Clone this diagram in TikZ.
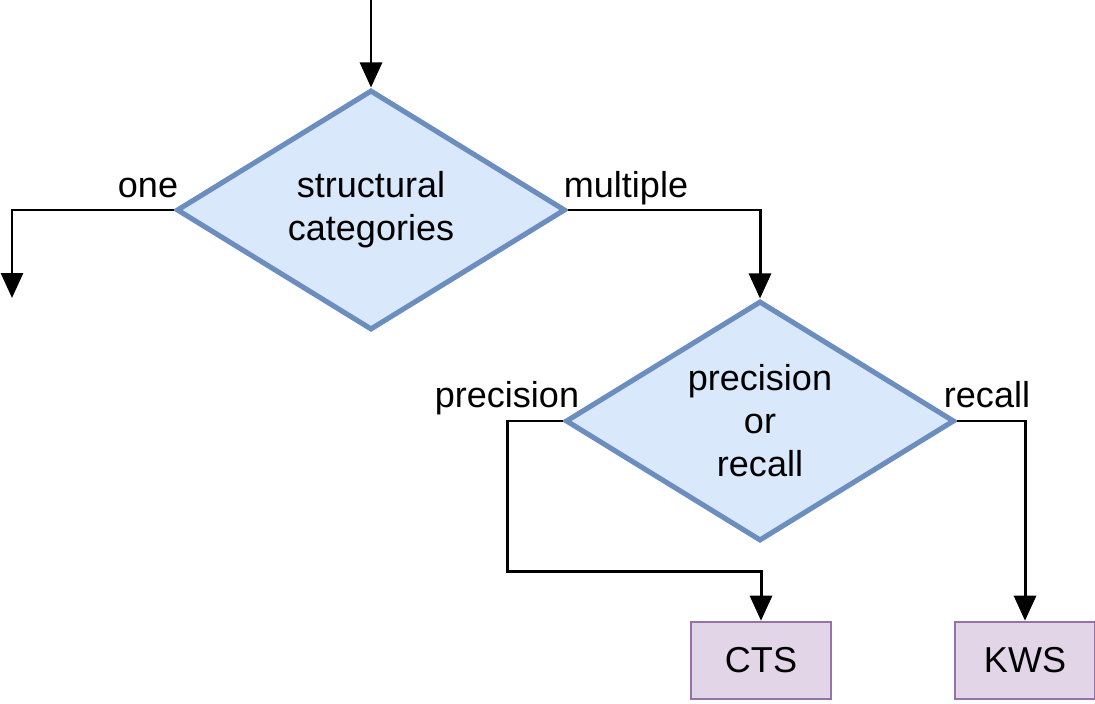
\documentclass[tikz,border=0pt]{standalone}
\usepackage{fontspec}
\setmainfont{Liberation Sans}
\usetikzlibrary{shapes.geometric,arrows.meta}
\definecolor{decfill}{HTML}{DAE8FC}
\definecolor{decdraw}{HTML}{6C8EBF}
\definecolor{endfill}{HTML}{E1D5E7}
\definecolor{enddraw}{HTML}{9673A6}
\tikzset{
  decision/.style={diamond, draw=decdraw, fill=decfill, line width=2.9pt, inner sep=0pt,
    shape aspect=1.62,
    minimum width=7.78cm, minimum height=4.8cm, align=center, font=\fontsize{20.5}{24.5}\selectfont},
  endbox/.style={rectangle, draw=enddraw, fill=endfill, line width=1.5pt,
    minimum width=2.8cm, minimum height=1.54cm, font=\fontsize{20.5}{24.5}\selectfont},
  conn/.style={line width=1.7pt, -{Triangle[width=0.44cm,length=0.5cm]}},
  lbl/.style={anchor=base, inner sep=0pt, font=\fontsize{20.5}{24.5}\selectfont},
}
\begin{document}
\begin{tikzpicture}[x=0.02cm,y=-0.02cm]
\useasboundingbox (0,0) rectangle (1095,703);
\coordinate (start) at (371,0);
\node[decision] (d1) at (371,210) {structural\\categories};
\node[decision] (d2) at (760,421) {precision\\or\\recall};
\node[endbox] (cts) at (761,660.5) {CTS};
\node[endbox] (kws) at (1025,660.5) {KWS};
\coordinate (oneend) at (12,298);
\draw[conn] (start) -- (d1.north);
\draw[conn] (d1.west) -| (oneend);
\draw[conn] (d1.east) -| (d2.north);
\draw[conn] (d2.west) -- (507,421) -- (507,571) -| (cts.north);
\draw[conn] (d2.east) -| (kws.north);
\node[lbl] (lone) at (148,197) {one};
\node[lbl] (lmult) at (626,197) {multiple};
\node[lbl] (lprec) at (507,407) {precision};
\node[lbl] (lrec) at (987,407) {recall};
\end{tikzpicture}
\end{document}
